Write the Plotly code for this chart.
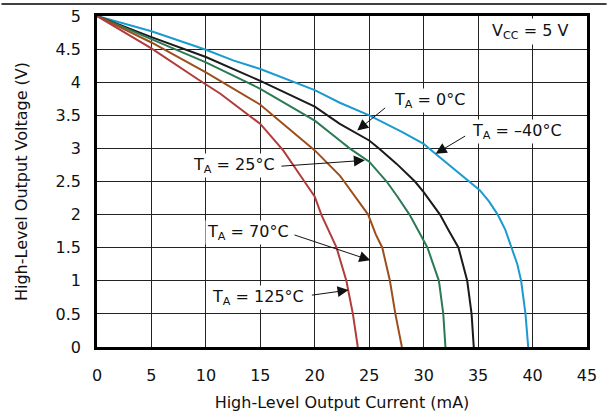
import plotly.graph_objects as go

# ---- data ----
x_m40 = [0, 5, 10, 12.5, 15, 20, 22.3, 25, 28, 30, 30.5, 32, 33.5, 34.5, 35.15, 36, 36.8, 37.5, 38.1, 38.6, 38.95, 39.35, 39.6]
v_m40 = [5, 4.77, 4.49, 4.33, 4.2, 3.88, 3.69, 3.5, 3.25, 3.07, 3.0, 2.8, 2.6, 2.47, 2.37, 2.2, 2.0, 1.77, 1.5, 1.25, 1.0, 0.5, 0]

x_0 = [0, 5, 10, 15, 20, 22.3, 25, 25.9, 27.5, 29.2, 30, 31.5, 32.3, 33.2, 34.0, 34.4, 34.6]
v_0 = [5, 4.68, 4.38, 4.02, 3.63, 3.37, 3.12, 3.0, 2.77, 2.5, 2.34, 2.0, 1.76, 1.5, 1.0, 0.5, 0]

x_25 = [0, 5, 10, 15, 20, 22.3, 23.2, 25, 26.6, 27.6, 28.7, 29.7, 30.35, 31.4, 31.8, 32.0]
v_25 = [5, 4.65, 4.3, 3.9, 3.42, 3.12, 3.0, 2.8, 2.5, 2.27, 2.0, 1.7, 1.5, 1.0, 0.5, 0]

x_70 = [0, 5, 10, 15, 20, 22.3, 22.7, 23.8, 24.9, 25.6, 26.2, 26.9, 27.4, 28.0]
v_70 = [5, 4.6, 4.15, 3.66, 2.97, 2.59, 2.5, 2.25, 2.0, 1.7, 1.5, 1.0, 0.5, 0]

x_125 = [0, 5, 9.4, 11.3, 15, 17.1, 19.05, 20, 20.6, 21.3, 22.0, 22.9, 23.5, 23.95]
v_125 = [5, 4.51, 4.03, 3.83, 3.37, 2.97, 2.5, 2.27, 2.0, 1.75, 1.5, 1.0, 0.5, 0]

series = [
    ("T<sub>A</sub> = –40°C", x_m40, v_m40, "#1b9ad0"),
    ("T<sub>A</sub> = 0°C", x_0, v_0, "#1a1a1a"),
    ("T<sub>A</sub> = 25°C", x_25, v_25, "#2b7a55"),
    ("T<sub>A</sub> = 70°C", x_70, v_70, "#9c4f1c"),
    ("T<sub>A</sub> = 125°C", x_125, v_125, "#b23b3b"),
]

x_ticks = [0, 5, 10, 15, 20, 25, 30, 35, 40, 45]
y_ticks = [0, 0.5, 1, 1.5, 2, 2.5, 3, 3.5, 4, 4.5, 5]

# label text position, arrow tail, arrow tip (data coordinates)
labels = [
    ("T<sub>A</sub> = 0°C", 30.5, 3.72, 26.6, 3.63, 23.9, 3.27),
    ("T<sub>A</sub> = –40°C", 38.6, 3.26, 33.95, 3.2, 31.1, 2.92),
    ("T<sub>A</sub> = 25°C", 12.6, 2.74, 16.8, 2.73, 24.6, 2.82),
    ("T<sub>A</sub> = 70°C", 13.9, 1.73, 18.0, 1.70, 25.1, 1.31),
    ("T<sub>A</sub> = 125°C", 14.75, 0.75, 19.6, 0.78, 23.1, 0.86),
]

FONT = "DejaVu Sans, Liberation Sans, Arial, sans-serif"
FS = 16

fig = go.Figure()
for name, xs, ys, col in series:
    fig.add_trace(go.Scatter(x=xs, y=ys, mode="lines", name=name,
                             line=dict(color=col, width=2), showlegend=False))

annotations = []
for txt, tx, ty, ax, ay, px, py in labels:
    annotations.append(dict(x=px, y=py, ax=ax, ay=ay, xref="x", yref="y",
                            axref="x", ayref="y", text="", showarrow=True,
                            arrowhead=2, arrowsize=2.2, arrowwidth=1,
                            arrowcolor="#111"))
    annotations.append(dict(x=tx, y=ty, xref="x", yref="y", text=txt,
                            showarrow=False, bgcolor="white",
                            font=dict(family=FONT, size=FS, color="#111"),
                            borderpad=1))
annotations.append(dict(x=39.75, y=4.77, xref="x", yref="y",
                        text="V<sub>CC</sub> = 5 V", showarrow=False,
                        bgcolor="white", borderpad=2,
                        font=dict(family=FONT, size=FS, color="#111")))

fig.update_layout(
    width=608, height=415,
    margin=dict(l=97, r=21, t=16, b=68, autoexpand=False),
    paper_bgcolor="white", plot_bgcolor="white",
    font=dict(family=FONT, size=FS, color="#111"),
    annotations=annotations,
    # page rule across the top of the figure
    shapes=[dict(type="line", xref="paper", yref="paper", layer="above",
                 x0=-0.195, x1=1.04, y0=1.036, y1=1.036,
                 line=dict(color="black", width=1.5))],
)
fig.update_xaxes(range=[0, 45], tickvals=x_ticks, ticktext=[str(v) for v in x_ticks],
                 showgrid=True, gridcolor="#222", gridwidth=1,
                 showline=True, linecolor="black", linewidth=2.5, mirror=True,
                 ticks="", zeroline=False, ticklabelstandoff=12, automargin=False,
                 title=dict(text="High-Level Output Current (mA)", standoff=13,
                            font=dict(family=FONT, size=FS)))
fig.update_yaxes(range=[0, 5], tickvals=y_ticks,
                 ticktext=[("%g" % v) for v in y_ticks],
                 showgrid=True, gridcolor="#222", gridwidth=1,
                 showline=True, linecolor="black", linewidth=2.5, mirror=True,
                 ticks="", zeroline=False, ticklabelstandoff=10, automargin=False,
                 title=dict(text="High-Level Output Voltage (V)", standoff=24,
                            font=dict(family=FONT, size=FS)))

fig.write_html("out.html", config={"displayModeBar": False},
               post_script="document.body.style.margin='0';")
